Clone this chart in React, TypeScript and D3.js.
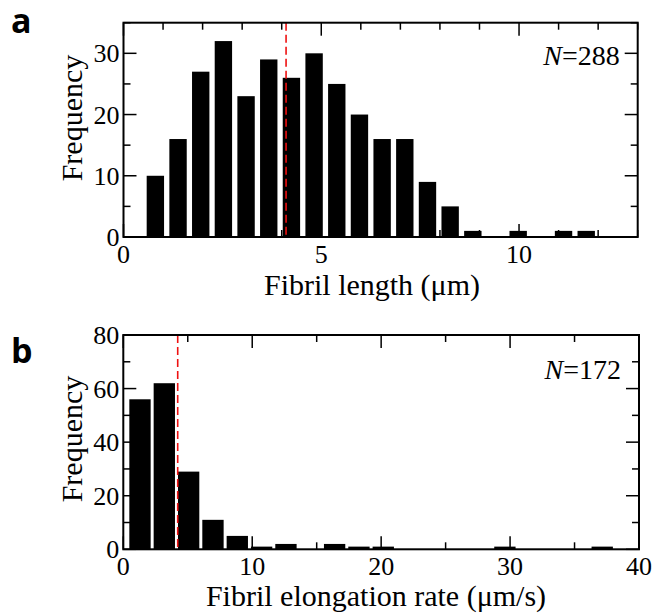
import React from 'react';
import * as d3 from 'd3';

// Panel a: fibril length histogram
const lengthCounts = [10, 16, 27, 32, 23, 29, 26, 30, 25, 20, 16, 16, 9, 5, 1, 0, 1, 0, 1, 1];
const lengthBinStart = 0.519;
const lengthBinWidth = 0.5733;
const lengthMean = 4.11;
const lengthN = 288;
const lengthXTicks = [0, 5, 10];
const lengthYTicks = [0, 10, 20, 30];

// Panel b: elongation rate histogram
const rateCounts = [56, 62, 29, 11, 5, 1, 2, 0, 2, 1, 1, 0, 0, 0, 0, 1, 0, 0, 0, 1];
const rateBinStart = 0.351;
const rateBinWidth = 1.887;
const rateMean = 4.22;
const rateN = 172;
const rateXTicks = [0, 10, 20, 30, 40];
const rateYTicks = [0, 20, 40, 60, 80];

const SERIF = '"Liberation Serif", "Times New Roman", serif';

type PanelProps = {
  letter: string;
  counts: number[];
  binStart: number;
  binWidth: number;
  mean: number;
  n: number;
  xDomain: [number, number];
  yDomain: [number, number];
  xTicks: number[];
  yTicks: number[];
  xMinorStep: number;
  yMinorStep: number;
  box: { left: number; right: number; top: number; bottom: number };
  gap: number;
  xTitle: string;
  titleX: number;
  titleY: number;
  freqY: number;
  letterY: number;
  nY: number;
};

function Panel(p: PanelProps) {
  const { box } = p;
  const x = d3.scaleLinear().domain(p.xDomain).range([box.left, box.right]);
  const y = d3.scaleLinear().domain(p.yDomain).range([box.bottom, box.top]);

  const xMinor = d3.range(p.xDomain[0], p.xDomain[1] + 1e-9, p.xMinorStep)
    .filter(v => !p.xTicks.includes(v));
  const yMinor = d3.range(p.yDomain[0], p.yDomain[1] + 1e-9, p.yMinorStep)
    .filter(v => !p.yTicks.includes(v));

  const major = 13;
  const minor = 7;

  return (
    <g>
      {/* bars */}
      {p.counts.map((c, i) => {
        if (!c) return null;
        const x0 = x(p.binStart + i * p.binWidth);
        const x1 = x(p.binStart + (i + 1) * p.binWidth);
        return (
          <rect key={i} x={x0 + p.gap / 2} width={x1 - x0 - p.gap}
            y={y(c)} height={y(0) - y(c)} fill="#000" />
        );
      })}

      {/* mean line */}
      <line x1={x(p.mean)} x2={x(p.mean)} y1={box.top} y2={box.bottom}
        stroke="#ee1111" strokeWidth={1.6} strokeDasharray="8,4" />

      {/* ticks, inward on all sides */}
      {p.xTicks.concat(xMinor).map(v => {
        const len = p.xTicks.includes(v) ? major : minor;
        return (
          <g key={'x' + v} stroke="#000" strokeWidth={1.5}>
            <line x1={x(v)} x2={x(v)} y1={box.bottom} y2={box.bottom - len} />
            <line x1={x(v)} x2={x(v)} y1={box.top} y2={box.top + len} />
          </g>
        );
      })}
      {p.yTicks.concat(yMinor).map(v => {
        const len = p.yTicks.includes(v) ? major : minor;
        return (
          <g key={'y' + v} stroke="#000" strokeWidth={1.5}>
            <line x1={box.left} x2={box.left + len} y1={y(v)} y2={y(v)} />
            <line x1={box.right} x2={box.right - len} y1={y(v)} y2={y(v)} />
          </g>
        );
      })}

      {/* frame */}
      <rect x={box.left} y={box.top} width={box.right - box.left} height={box.bottom - box.top}
        fill="none" stroke="#000" strokeWidth={2} />

      {/* tick labels */}
      {p.xTicks.map(v => (
        <text key={'xl' + v} x={x(v)} y={box.bottom + 26} textAnchor="middle"
          fontFamily={SERIF} fontSize={26}>{v}</text>
      ))}
      {p.yTicks.map(v => (
        <text key={'yl' + v} x={box.left - 4} y={y(v)} dy="0.35em" textAnchor="end"
          fontFamily={SERIF} fontSize={26}>{v}</text>
      ))}

      {/* titles */}
      <text x={p.titleX} y={p.titleY} textAnchor="middle" fontFamily={SERIF} fontSize={30}>
        {p.xTitle}
      </text>
      <text transform={`translate(82,${p.freqY}) rotate(-90)`} textAnchor="middle"
        fontFamily={SERIF} fontSize={30}>Frequency</text>

      <text x={box.right - 18} y={p.nY} textAnchor="end" fontFamily={SERIF} fontSize={28}>
        <tspan fontStyle="italic">N</tspan>={p.n}
      </text>

      <text x={11} y={p.letterY} fontFamily='"Open Sans", "Noto Sans", sans-serif'
        fontWeight="bold" fontSize={34}>{p.letter}</text>
    </g>
  );
}

export default function App() {
  return (
    <svg width={654} height={616} style={{ display: 'block', position: 'absolute', left: 0, top: 0, background: '#fff' }}>
      <Panel
        letter="a"
        counts={lengthCounts}
        binStart={lengthBinStart}
        binWidth={lengthBinWidth}
        mean={lengthMean}
        n={lengthN}
        xDomain={[0, 13]}
        yDomain={[0, 35]}
        xTicks={lengthXTicks}
        yTicks={lengthYTicks}
        xMinorStep={1}
        yMinorStep={5}
        box={{ left: 123.5, right: 637.7, top: 22.7, bottom: 237 }}
        gap={5.3}
        xTitle="Fibril length (μm)"
        titleX={372}
        titleY={295}
        freqY={118}
        letterY={33}
        nY={65}
      />
      <Panel
        letter="b"
        counts={rateCounts}
        binStart={rateBinStart}
        binWidth={rateBinWidth}
        mean={rateMean}
        n={rateN}
        xDomain={[0, 40]}
        yDomain={[0, 80]}
        xTicks={rateXTicks}
        yTicks={rateYTicks}
        xMinorStep={5}
        yMinorStep={10}
        box={{ left: 123.3, right: 639, top: 335, bottom: 549.3 }}
        gap={3}
        xTitle="Fibril elongation rate (μm/s)"
        titleX={376}
        titleY={606}
        freqY={439}
        letterY={363}
        nY={379}
      />
    </svg>
  );
}
